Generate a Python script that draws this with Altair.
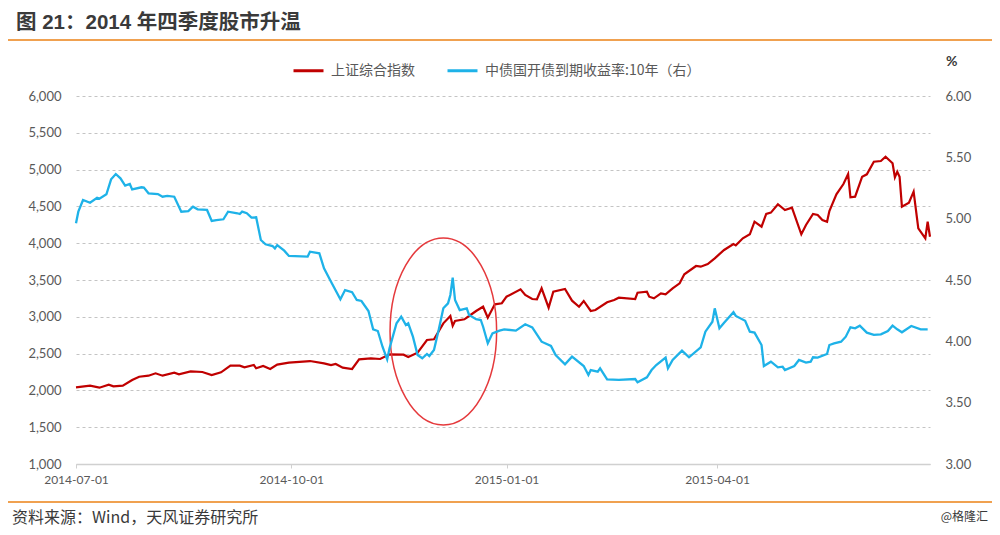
import altair as alt
import pandas as pd

# ---------------- data ----------------
START = "2014-07-01"  # day 0

# 上证综合指数 (left axis): days since 2014-07-01, index level
sh_days = [0, 6, 10, 14, 16, 20, 24, 27, 31, 34,
           37, 42, 44, 49, 54, 58, 62, 66, 70, 72,
           76, 77, 80, 83, 86, 91, 100, 106, 109, 111,
           114, 118, 121, 126, 130, 134, 140, 142, 146, 150,
           153, 157, 160, 161, 162, 166, 168, 171, 174, 176,
           179, 182, 184, 190, 192, 195, 197, 199, 202, 204,
           209, 212, 215, 217, 220, 222, 227, 230, 232, 239,
           240, 244, 245, 247, 250, 252, 255, 258, 260, 265,
           267, 270, 273, 277, 281, 282, 285, 288, 290, 293,
           295, 297, 300, 303, 306, 310, 312, 315, 317, 319,
           321, 322, 325, 328, 330, 331, 333, 336, 338, 341,
           344, 346, 349, 350, 351, 352, 353, 356, 358, 360,
           363, 364, 365]
sh_values = [2042, 2064, 2037, 2078, 2056, 2064, 2141, 2186, 2200, 2232,
             2200, 2240, 2219, 2259, 2250, 2209, 2246, 2336, 2336, 2314,
             2345, 2300, 2331, 2291, 2350, 2377, 2399, 2368, 2345, 2359,
             2309, 2291, 2422, 2436, 2427, 2490, 2485, 2454, 2512, 2685,
             2694, 2911, 3011, 2879, 2943, 2966, 3011, 3079, 3137, 2988,
             3170, 3184, 3273, 3373, 3296, 3242, 3238, 3387, 3124, 3341,
             3378, 3219, 3137, 3215, 3079, 3092, 3197, 3228, 3260, 3242,
             3328, 3341, 3273, 3251, 3319, 3305, 3387, 3455, 3577, 3690,
             3681, 3717, 3795, 3908, 3989, 3971, 4067, 4121, 4292, 4224,
             4397, 4415, 4529, 4451, 4482, 4121, 4247, 4397, 4383, 4315,
             4292, 4438, 4664, 4804, 4940, 4623, 4632, 4904, 4936, 5107,
             5117, 5175, 5086, 4895, 4972, 4904, 4496, 4551, 4700, 4202,
             4067, 4292, 4088]

# 中债国开债到期收益率:10年 (right axis, %): days since 2014-07-01, yield
cdb_days = [0, 1, 3, 6, 9, 10, 13, 15, 17, 19,
            21, 23, 24, 28, 29, 31, 35, 37, 39, 42,
            45, 48, 50, 52, 56, 58, 60, 63, 65, 69,
            70, 71, 73, 75, 77, 79, 81, 84, 85, 86,
            89, 91, 99, 100, 104, 106, 109, 113, 115, 118,
            120, 122, 125, 127, 129, 131, 133, 134, 137, 139,
            141, 142, 144, 146, 148, 150, 151, 153, 155, 157,
            159, 160, 161, 162, 164, 167, 168, 171, 173, 174,
            176, 178, 181, 183, 188, 192, 195, 199, 203, 205,
            209, 212, 217, 219, 220, 223, 224, 227, 232, 239,
            240, 244, 246, 248, 252, 253, 255, 259, 262, 267,
            269, 272, 273, 275, 277, 281, 282, 286, 288, 290,
            293, 294, 297, 300, 302, 303, 307, 309, 312, 314,
            315, 317, 321, 322, 324, 327, 329, 331, 333, 335,
            338, 341, 344, 347, 349, 351, 353, 357, 361, 364]
cdb_values = [4.962, 5.057, 5.152, 5.130, 5.171, 5.163, 5.199, 5.321, 5.364, 5.329,
              5.269, 5.283, 5.239, 5.256, 5.253, 5.207, 5.201, 5.179, 5.185, 5.179,
              5.057, 5.062, 5.098, 5.076, 5.071, 4.981, 4.989, 4.995, 5.057, 5.044,
              5.038, 5.057, 5.044, 5.008, 5.011, 4.826, 4.791, 4.777, 4.758, 4.785,
              4.739, 4.696, 4.690, 4.731, 4.718, 4.595, 4.486, 4.343, 4.418, 4.400,
              4.337, 4.329, 4.247, 4.098, 4.084, 3.956, 3.853, 3.943, 4.147, 4.201,
              4.133, 4.147, 4.038, 3.889, 3.862, 3.897, 3.880, 3.929, 4.092, 4.269,
              4.310, 4.378, 4.519, 4.337, 4.255, 4.269, 4.215, 4.180, 4.174, 4.119,
              3.984, 4.065, 4.087, 4.098, 4.087, 4.139, 4.114, 3.997, 3.962, 3.889,
              3.813, 3.875, 3.799, 3.726, 3.766, 3.753, 3.780, 3.690, 3.685, 3.693,
              3.666, 3.707, 3.766, 3.807, 3.867, 3.780, 3.848, 3.924, 3.870, 3.951,
              4.079, 4.160, 4.269, 4.106, 4.152, 4.237, 4.207, 4.168, 4.079, 4.071,
              3.970, 3.799, 3.834, 3.788, 3.793, 3.766, 3.799, 3.848, 3.826, 3.834,
              3.870, 3.867, 3.897, 3.970, 3.984, 3.997, 4.038, 4.114, 4.106, 4.128,
              4.071, 4.052, 4.057, 4.084, 4.128, 4.098, 4.074, 4.125, 4.098, 4.098]

SERIES = ["上证综合指数", "中债国开债到期收益率:10年（右）"]
COLORS = ["#C00000", "#1EB2E8"]

left_ticks = [1000, 1500, 2000, 2500, 3000, 3500, 4000, 4500, 5000, 5500, 6000]
right_ticks = [3.0, 3.5, 4.0, 4.5, 5.0, 5.5, 6.0]
x_tick_dates = [(2014, 7, 1), (2014, 10, 1), (2015, 1, 1), (2015, 4, 1)]

# highlighted period (red ellipse): centre date and index level
highlight_date = ["2014-12-05"]
highlight_level = [2800]

TITLE = "图 21：2014 年四季度股市升温"
SOURCE = "资料来源：Wind，天风证券研究所"
MARK = "@格隆汇"

# ---------------- build ----------------
start = pd.Timestamp(START)
sh_df = pd.DataFrame({"date": start + pd.to_timedelta(sh_days, unit="D"),
                      "value": sh_values, "series": SERIES[0]})
cdb_df = pd.DataFrame({"date": start + pd.to_timedelta(cdb_days, unit="D"),
                       "value": cdb_values, "series": SERIES[1]})
hl_df = pd.DataFrame({"date": pd.to_datetime(highlight_date), "value": highlight_level})

W, H = 854, 368
PAD = {"left": 68, "top": 88, "right": 62, "bottom": 63}
CJK = "Noto Sans CJK SC"
TITLE_FONT = "Liberation Sans, Noto Sans CJK SC"
NUM = "Lato"
GREY = "#595959"
ORANGE = "#F0A150"

x_enc = alt.X(
    "date:T",
    scale=alt.Scale(domain=[alt.DateTime(year=2014, month=7, date=1),
                            alt.DateTime(year=2015, month=7, date=1)], nice=False),
    axis=alt.Axis(values=[alt.DateTime(year=y, month=m, date=d) for (y, m, d) in x_tick_dates],
                  format="%Y-%m-%d", title=None, grid=False,
                  domainColor="#D0D0D0", domainWidth=1.5,
                  tickColor="#D0D0D0", tickSize=4, tickWidth=1,
                  labelFont=NUM, labelFontSize=12, labelColor=GREY,
                  labelPadding=6, labelFlush=False, labelOverlap=False),
)

color_enc = alt.Color(
    "series:N",
    scale=alt.Scale(domain=SERIES, range=COLORS),
    legend=alt.Legend(orient="none", legendX=216, legendY=-42, direction="horizontal",
                      title=None, symbolType="stroke", symbolSize=900,
                      symbolStrokeWidth=3, labelFont=CJK, labelFontSize=14,
                      labelColor=GREY, columnPadding=26, labelOffset=6,
                      labelLimit=400),
)

left_y = alt.Y(
    "value:Q",
    scale=alt.Scale(domain=[1000, 6000], nice=False, zero=False),
    axis=alt.Axis(values=left_ticks, format=",.0f", title=None, orient="left",
                  grid=True, gridDash=[3, 3], gridColor="#C4C4C4", gridWidth=1,
                  domain=False, ticks=False, labelPadding=15,
                  labelFont=NUM, labelFontSize=13, labelColor=GREY),
)

red_line = alt.Chart(sh_df).mark_line(strokeWidth=2.2).encode(
    x=x_enc, y=left_y, color=color_enc,
)

ellipse_path = "M0,-1 A0.57,1 0 1,1 0,1 A0.57,1 0 1,1 0,-1 Z"
ellipse = alt.Chart(hl_df).mark_point(
    shape=ellipse_path, size=187 * 187, filled=False, stroke="#E5393C",
    strokeWidth=1.5, opacity=1,
).encode(x=x_enc, y=left_y)

left_layer = alt.layer(red_line, ellipse)

blue_line = alt.Chart(cdb_df).mark_line(strokeWidth=2.3).encode(
    x=x_enc,
    y=alt.Y("value:Q",
            scale=alt.Scale(domain=[3, 6], nice=False, zero=False),
            axis=alt.Axis(values=right_ticks, format=".2f", title=None, orient="right",
                          grid=False, domain=False, ticks=False, labelPadding=15,
                          labelFont=NUM, labelFontSize=13, labelColor=GREY)),
    color=color_enc,
)

one = pd.DataFrame({"k": [0]})

def text(s, x, y, size, color, weight="normal", align="left", font=CJK, baseline="middle"):
    return alt.Chart(pd.DataFrame({"t": [s]})).mark_text(
        align=align, baseline=baseline, fontSize=size, fontWeight=weight,
        color=color, font=font,
    ).encode(text="t:N", x=alt.value(x), y=alt.value(y))

def hrule(y, color, width):
    return alt.Chart(one).mark_rule(color=color, strokeWidth=width).encode(
        x=alt.value(-68), x2=alt.value(W + PAD["right"]), y=alt.value(y))

title = text(TITLE, -60, -67, 20.5, "#3A3A3A", weight="bold", font=TITLE_FONT,
             baseline="alphabetic")
percent = text("%", 870, -34, 14, "#3A3A3A", weight="bold", font=NUM)
source = text(SOURCE, -64, 427, 16, "#3A3A3A", baseline="alphabetic")
mark = text(MARK, 912, 425, 12, "#3A3A3A", align="right", baseline="alphabetic")
top_rule = hrule(-56, ORANGE, 2)
bottom_rule = hrule(406, ORANGE, 2)

chart = alt.layer(
    top_rule, bottom_rule,
    alt.layer(left_layer, blue_line).resolve_scale(y="independent"),
    title, percent, source, mark,
).properties(
    width=W, height=H,
    padding=PAD,
    autosize=alt.AutoSizeParams(type="none"),
    background="white",
).configure_view(stroke=None)

chart.save("out.html", embed_options={"renderer": "svg", "actions": False})
